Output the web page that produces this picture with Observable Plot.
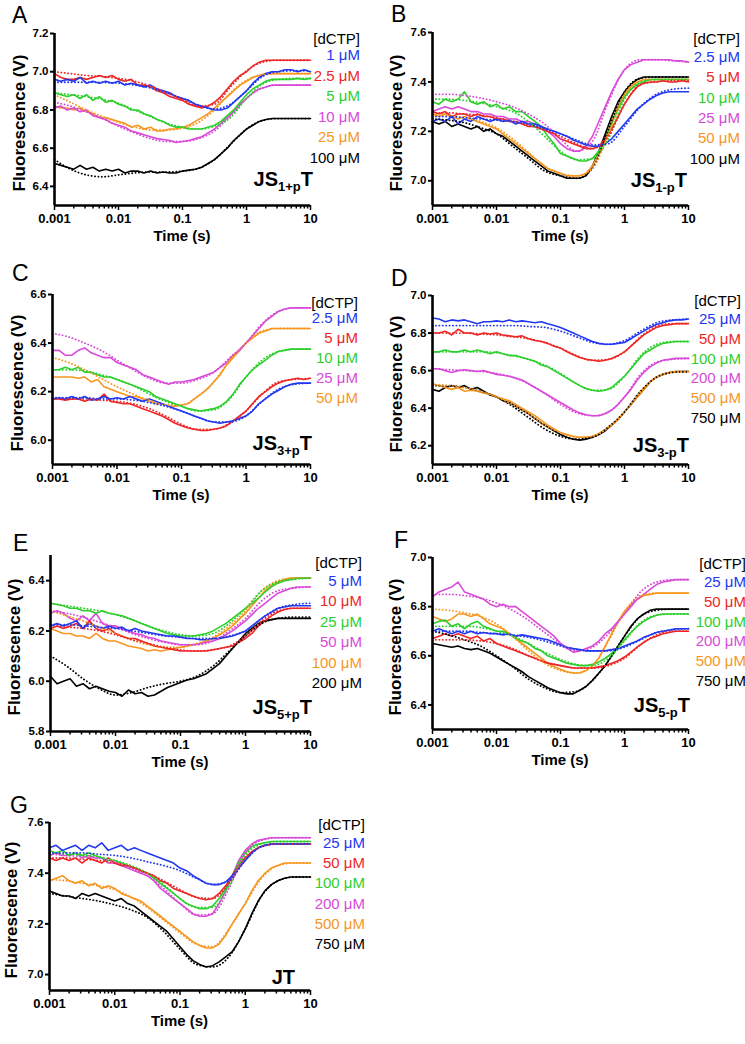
<!DOCTYPE html>
<html><head><meta charset="utf-8">
<script src="https://cdn.jsdelivr.net/npm/d3@7"></script>
<script src="https://cdn.jsdelivr.net/npm/@observablehq/plot@0.6"></script>
<style>
body{margin:0;background:#fff;}
#fig{position:relative;width:745px;height:1044px;overflow:hidden;font-family:"Liberation Sans",Arial,sans-serif;background:#fff;}
.abs{position:absolute;white-space:nowrap;line-height:1;}
.abs sub{font-size:13px;vertical-align:-5px;line-height:0;}
svg{overflow:visible;}
</style></head><body><div id="fig"></div>
<script>
// ---- time grids (s) ----
const tData = [0.001,0.00126,0.00158,0.002,0.00251,0.00316,0.00398,0.00501,0.00631,0.00794,0.01,0.0126,0.0158,0.02,0.0251,0.0316,0.0398,0.0501,0.0631,0.0794,0.1,0.126,0.158,0.2,0.251,0.316,0.398,0.501,0.631,0.794,1,1.26,1.58,2,2.51,3.16,3.98,5.01,6.31,7.94,10];
const tFit = [0.001,0.00178,0.00316,0.00562,0.01,0.0178,0.0316,0.0562,0.1,0.178,0.316,0.562,1,1.78,3.16,5.62,10];
const xTicks = [0.001,0.01,0.1,1,10];
const xMinorTicks = [0.002,0.003,0.004,0.005,0.006,0.007,0.008,0.009,0.02,0.03,0.04,0.05,0.06,0.07,0.08,0.09,0.2,0.3,0.4,0.5,0.6,0.7,0.8,0.9,2,3,4,5,6,7,8,9];
const seriesColors = ["#2238f0","#ee2626","#2ccf2c","#d94ad9","#f7961f","#000000"];

// ---- Panel A: JS1+pT ----
const A_yTicks = [6.4,6.6,6.8,7.0,7.2];
const A_legend = ["1 μM","2.5 μM","5 μM","10 μM","25 μM","100 μM"];
const A_b = [6.96,6.95,6.96,6.95,6.97,6.94,6.95,6.94,6.95,6.94,6.95,6.93,6.94,6.93,6.92,6.93,6.91,6.90,6.89,6.87,6.86,6.85,6.83,6.82,6.81,6.80,6.80,6.81,6.84,6.87,6.90,6.94,6.97,6.99,7.00,7.00,7.01,7.01,7.00,7.01,7.00];
const A_b_fit = [6.945,6.945,6.945,6.944,6.94,6.93,6.915,6.89,6.86,6.825,6.805,6.83,6.90,6.975,7.00,7.005,7.005];
const A_r = [6.99,6.97,6.96,6.96,6.97,6.96,6.97,6.98,6.97,6.98,6.96,6.95,6.96,6.93,6.93,6.92,6.90,6.89,6.87,6.86,6.85,6.83,6.82,6.81,6.82,6.84,6.87,6.91,6.95,6.98,7.00,7.03,7.05,7.06,7.06,7.06,7.06,7.06,7.06,7.06,7.06];
const A_r_fit = [7.00,6.99,6.98,6.975,6.965,6.95,6.925,6.89,6.855,6.82,6.83,6.92,7.005,7.05,7.06,7.06,7.06];
const A_g = [6.89,6.88,6.87,6.88,6.86,6.88,6.85,6.87,6.84,6.85,6.83,6.82,6.80,6.80,6.78,6.77,6.75,6.74,6.72,6.71,6.71,6.70,6.70,6.70,6.71,6.72,6.74,6.77,6.80,6.84,6.88,6.91,6.93,6.95,6.96,6.96,6.96,6.96,6.965,6.96,6.965];
const A_g_fit = [6.89,6.88,6.87,6.855,6.835,6.80,6.765,6.73,6.71,6.70,6.715,6.76,6.86,6.935,6.96,6.965,6.965];
const A_m = [6.81,6.82,6.80,6.81,6.79,6.80,6.77,6.76,6.75,6.73,6.72,6.71,6.69,6.68,6.67,6.66,6.65,6.645,6.64,6.63,6.635,6.64,6.65,6.66,6.68,6.70,6.73,6.76,6.79,6.83,6.86,6.89,6.91,6.92,6.93,6.93,6.93,6.93,6.93,6.93,6.93];
const A_m_fit = [6.84,6.82,6.79,6.755,6.715,6.68,6.65,6.635,6.635,6.65,6.69,6.77,6.86,6.915,6.93,6.93,6.93];
const A_o = [6.82,6.81,6.81,6.80,6.81,6.79,6.78,6.76,6.76,6.75,6.74,6.73,6.71,6.72,6.70,6.71,6.69,6.69,6.70,6.70,6.71,6.72,6.74,6.76,6.78,6.81,6.84,6.87,6.90,6.93,6.95,6.97,6.98,6.99,6.99,6.99,6.99,6.99,6.99,6.99,6.99];
const A_o_fit = [6.88,6.84,6.80,6.765,6.735,6.71,6.695,6.695,6.705,6.735,6.80,6.89,6.955,6.985,6.99,6.99,6.99];
const A_k = [6.52,6.51,6.50,6.49,6.51,6.49,6.50,6.48,6.49,6.48,6.49,6.47,6.48,6.48,6.47,6.48,6.47,6.475,6.47,6.47,6.48,6.485,6.49,6.50,6.52,6.54,6.57,6.60,6.64,6.67,6.70,6.72,6.74,6.75,6.755,6.755,6.755,6.755,6.755,6.755,6.755];
const A_k_fit = [6.54,6.49,6.46,6.45,6.46,6.47,6.475,6.475,6.48,6.495,6.54,6.62,6.70,6.745,6.755,6.755,6.755];

// ---- Panel B: JS1-pT ----
const B_yTicks = [7.0,7.2,7.4,7.6];
const B_legend = ["2.5 μM","5 μM","10 μM","25 μM","50 μM","100 μM"];
const B_b = [7.24,7.25,7.24,7.26,7.23,7.25,7.24,7.26,7.25,7.24,7.25,7.24,7.245,7.23,7.24,7.23,7.23,7.22,7.21,7.20,7.19,7.18,7.165,7.155,7.145,7.14,7.14,7.15,7.17,7.20,7.23,7.26,7.29,7.31,7.33,7.345,7.355,7.36,7.36,7.36,7.36];
const B_b_fit = [7.26,7.26,7.255,7.25,7.245,7.24,7.23,7.21,7.19,7.165,7.145,7.15,7.22,7.30,7.35,7.37,7.375];
const B_r = [7.28,7.27,7.28,7.26,7.27,7.27,7.26,7.27,7.26,7.26,7.25,7.25,7.24,7.24,7.23,7.22,7.22,7.21,7.20,7.19,7.17,7.16,7.15,7.14,7.13,7.13,7.14,7.17,7.21,7.26,7.31,7.35,7.38,7.395,7.40,7.40,7.405,7.40,7.40,7.405,7.40];
const B_r_fit = [7.275,7.275,7.27,7.265,7.255,7.24,7.225,7.205,7.18,7.15,7.13,7.18,7.31,7.39,7.40,7.405,7.405];
const B_g = [7.32,7.31,7.33,7.32,7.33,7.36,7.32,7.31,7.32,7.30,7.31,7.29,7.30,7.28,7.28,7.26,7.24,7.22,7.18,7.15,7.11,7.10,7.09,7.08,7.08,7.09,7.12,7.17,7.23,7.29,7.34,7.37,7.39,7.40,7.41,7.41,7.41,7.41,7.41,7.41,7.41];
const B_g_fit = [7.33,7.33,7.325,7.315,7.30,7.28,7.24,7.18,7.12,7.085,7.09,7.17,7.33,7.40,7.41,7.41,7.41];
const B_m = [7.28,7.29,7.30,7.29,7.30,7.29,7.28,7.28,7.27,7.27,7.26,7.26,7.25,7.25,7.24,7.24,7.23,7.22,7.20,7.18,7.15,7.13,7.12,7.12,7.14,7.18,7.24,7.30,7.36,7.41,7.45,7.47,7.48,7.49,7.49,7.49,7.49,7.49,7.485,7.485,7.48];
const B_m_fit = [7.35,7.35,7.345,7.335,7.32,7.30,7.27,7.23,7.17,7.12,7.16,7.32,7.45,7.49,7.49,7.485,7.48];
const B_o = [7.27,7.26,7.27,7.26,7.25,7.26,7.25,7.24,7.23,7.22,7.21,7.19,7.17,7.15,7.13,7.11,7.09,7.07,7.05,7.04,7.03,7.02,7.02,7.02,7.03,7.06,7.11,7.17,7.24,7.30,7.35,7.38,7.40,7.41,7.41,7.41,7.41,7.41,7.41,7.41,7.41];
const B_o_fit = [7.27,7.265,7.255,7.24,7.215,7.17,7.115,7.06,7.03,7.02,7.05,7.19,7.35,7.405,7.41,7.41,7.41];
const B_k = [7.24,7.23,7.24,7.22,7.23,7.22,7.21,7.22,7.20,7.21,7.19,7.18,7.16,7.14,7.12,7.10,7.08,7.06,7.04,7.03,7.02,7.01,7.01,7.01,7.02,7.06,7.12,7.19,7.26,7.32,7.36,7.39,7.41,7.42,7.42,7.42,7.42,7.42,7.42,7.42,7.42];
const B_k_fit = [7.25,7.245,7.235,7.215,7.19,7.14,7.09,7.04,7.02,7.01,7.05,7.21,7.36,7.415,7.42,7.42,7.42];

// ---- Panel C: JS3+pT ----
const C_yTicks = [6.0,6.2,6.4,6.6];
const C_legend = ["2.5 μM","5 μM","10 μM","25 μM","50 μM"];
const C_b = [6.17,6.175,6.17,6.18,6.17,6.18,6.165,6.17,6.18,6.17,6.175,6.17,6.18,6.17,6.16,6.17,6.16,6.15,6.14,6.13,6.12,6.11,6.10,6.09,6.08,6.075,6.07,6.075,6.08,6.09,6.10,6.12,6.15,6.17,6.19,6.205,6.22,6.23,6.235,6.235,6.235];
const C_b_fit = [6.175,6.175,6.175,6.17,6.17,6.165,6.155,6.14,6.12,6.095,6.075,6.075,6.10,6.16,6.21,6.23,6.235];
const C_r = [6.17,6.17,6.165,6.17,6.17,6.16,6.17,6.165,6.19,6.16,6.155,6.15,6.15,6.14,6.13,6.12,6.11,6.10,6.085,6.07,6.06,6.05,6.045,6.04,6.04,6.045,6.05,6.06,6.08,6.10,6.12,6.15,6.18,6.20,6.22,6.235,6.245,6.25,6.255,6.25,6.255];
const C_r_fit = [6.17,6.17,6.17,6.165,6.16,6.15,6.13,6.10,6.065,6.045,6.045,6.07,6.12,6.19,6.24,6.25,6.255];
const C_g = [6.29,6.29,6.30,6.29,6.30,6.28,6.28,6.27,6.26,6.26,6.25,6.24,6.23,6.22,6.21,6.20,6.18,6.17,6.16,6.15,6.14,6.13,6.125,6.12,6.125,6.13,6.14,6.16,6.19,6.23,6.26,6.29,6.31,6.33,6.35,6.365,6.37,6.375,6.375,6.375,6.375];
const C_g_fit = [6.29,6.29,6.285,6.27,6.25,6.225,6.19,6.16,6.14,6.12,6.125,6.17,6.26,6.33,6.365,6.375,6.375];
const C_m = [6.37,6.37,6.35,6.35,6.37,6.38,6.36,6.35,6.34,6.34,6.32,6.31,6.30,6.29,6.27,6.26,6.25,6.24,6.23,6.24,6.24,6.245,6.25,6.26,6.27,6.28,6.30,6.32,6.35,6.37,6.40,6.43,6.46,6.49,6.51,6.53,6.54,6.545,6.545,6.545,6.545];
const C_m_fit = [6.44,6.425,6.40,6.37,6.33,6.29,6.255,6.235,6.235,6.25,6.28,6.34,6.40,6.48,6.53,6.545,6.545];
const C_o = [6.26,6.26,6.26,6.26,6.255,6.26,6.24,6.25,6.22,6.21,6.20,6.19,6.18,6.18,6.17,6.16,6.15,6.15,6.14,6.14,6.145,6.15,6.17,6.19,6.21,6.24,6.27,6.31,6.34,6.37,6.40,6.42,6.44,6.45,6.46,6.46,6.46,6.46,6.46,6.46,6.46];
const C_o_fit = [6.34,6.32,6.29,6.255,6.22,6.19,6.165,6.145,6.145,6.18,6.24,6.33,6.40,6.45,6.46,6.46,6.46];

// ---- Panel D: JS3-pT ----
const D_yTicks = [6.2,6.4,6.6,6.8,7.0];
const D_legend = ["25 μM","50 μM","100 μM","200 μM","500 μM","750 μM"];
const D_b = [6.88,6.875,6.86,6.87,6.865,6.87,6.86,6.85,6.86,6.86,6.865,6.86,6.87,6.86,6.865,6.86,6.855,6.86,6.85,6.84,6.83,6.815,6.80,6.785,6.77,6.755,6.745,6.74,6.74,6.745,6.75,6.77,6.79,6.81,6.83,6.845,6.855,6.865,6.87,6.87,6.875];
const D_b_fit = [6.84,6.84,6.84,6.84,6.84,6.84,6.835,6.83,6.81,6.78,6.75,6.74,6.76,6.81,6.855,6.87,6.875];
const D_r = [6.80,6.80,6.81,6.79,6.82,6.80,6.80,6.79,6.80,6.795,6.80,6.79,6.785,6.78,6.785,6.77,6.76,6.755,6.745,6.73,6.72,6.70,6.685,6.67,6.66,6.655,6.65,6.655,6.665,6.68,6.70,6.73,6.76,6.79,6.81,6.83,6.84,6.845,6.85,6.85,6.85];
const D_r_fit = [6.80,6.80,6.80,6.795,6.79,6.78,6.77,6.75,6.72,6.68,6.655,6.66,6.70,6.78,6.835,6.85,6.85];
const D_g = [6.70,6.70,6.71,6.70,6.70,6.71,6.70,6.71,6.70,6.69,6.70,6.69,6.68,6.68,6.67,6.66,6.65,6.63,6.62,6.60,6.58,6.56,6.54,6.52,6.505,6.495,6.49,6.495,6.51,6.54,6.57,6.61,6.65,6.69,6.71,6.73,6.745,6.75,6.755,6.755,6.755];
const D_g_fit = [6.70,6.70,6.70,6.70,6.695,6.68,6.66,6.63,6.585,6.53,6.495,6.50,6.57,6.68,6.74,6.755,6.755];
const D_m = [6.61,6.61,6.60,6.59,6.60,6.605,6.60,6.595,6.60,6.59,6.58,6.575,6.57,6.56,6.55,6.53,6.51,6.49,6.47,6.45,6.43,6.41,6.39,6.375,6.365,6.36,6.36,6.37,6.39,6.42,6.46,6.50,6.55,6.59,6.62,6.64,6.655,6.66,6.665,6.665,6.665];
const D_m_fit = [6.61,6.605,6.60,6.595,6.585,6.565,6.53,6.48,6.42,6.375,6.36,6.38,6.46,6.58,6.645,6.66,6.665];
const D_o = [6.53,6.52,6.51,6.50,6.51,6.49,6.495,6.49,6.48,6.475,6.46,6.45,6.44,6.42,6.40,6.38,6.36,6.335,6.31,6.29,6.27,6.26,6.25,6.245,6.245,6.25,6.265,6.285,6.31,6.34,6.38,6.42,6.46,6.50,6.54,6.565,6.58,6.59,6.595,6.595,6.595];
const D_o_fit = [6.525,6.52,6.51,6.49,6.46,6.42,6.37,6.31,6.27,6.245,6.25,6.30,6.38,6.49,6.565,6.59,6.595];
const D_k = [6.50,6.49,6.51,6.52,6.51,6.52,6.50,6.51,6.49,6.47,6.46,6.44,6.43,6.41,6.39,6.37,6.345,6.32,6.30,6.28,6.26,6.245,6.235,6.23,6.235,6.245,6.26,6.28,6.31,6.34,6.38,6.42,6.46,6.50,6.54,6.565,6.58,6.59,6.595,6.595,6.595];
const D_k_fit = [6.52,6.52,6.51,6.49,6.46,6.41,6.35,6.29,6.25,6.235,6.245,6.30,6.38,6.49,6.565,6.59,6.595];

// ---- Panel E: JS5+pT ----
const E_yTicks = [5.8,6.0,6.2,6.4];
const E_legend = ["5 μM","10 μM","25 μM","50 μM","100 μM","200 μM"];
const E_b = [6.22,6.23,6.22,6.23,6.24,6.21,6.23,6.22,6.21,6.22,6.21,6.215,6.20,6.21,6.20,6.195,6.19,6.185,6.18,6.18,6.175,6.17,6.17,6.165,6.165,6.17,6.17,6.175,6.18,6.19,6.20,6.22,6.24,6.26,6.275,6.29,6.295,6.30,6.30,6.30,6.30];
const E_b_fit = [6.225,6.225,6.22,6.215,6.21,6.20,6.19,6.18,6.175,6.17,6.17,6.18,6.20,6.25,6.29,6.305,6.31];
const E_r = [6.21,6.22,6.21,6.22,6.23,6.21,6.24,6.21,6.20,6.21,6.19,6.18,6.17,6.17,6.16,6.15,6.14,6.135,6.13,6.125,6.12,6.12,6.12,6.12,6.12,6.125,6.13,6.135,6.14,6.155,6.17,6.19,6.22,6.24,6.26,6.275,6.285,6.29,6.29,6.29,6.29];
const E_r_fit = [6.22,6.215,6.21,6.20,6.185,6.165,6.15,6.135,6.125,6.12,6.125,6.14,6.18,6.24,6.28,6.29,6.29];
const E_g = [6.31,6.305,6.30,6.29,6.29,6.28,6.28,6.27,6.28,6.27,6.265,6.26,6.25,6.24,6.23,6.22,6.21,6.20,6.19,6.185,6.18,6.18,6.18,6.185,6.19,6.20,6.215,6.23,6.25,6.27,6.29,6.31,6.33,6.355,6.375,6.39,6.40,6.405,6.41,6.41,6.41];
const E_g_fit = [6.31,6.30,6.29,6.28,6.265,6.245,6.22,6.20,6.185,6.18,6.19,6.23,6.29,6.36,6.395,6.405,6.41];
const E_m = [6.27,6.28,6.27,6.25,6.24,6.26,6.24,6.27,6.23,6.22,6.22,6.21,6.20,6.19,6.185,6.175,6.17,6.16,6.155,6.15,6.145,6.145,6.145,6.15,6.155,6.16,6.17,6.185,6.20,6.22,6.24,6.265,6.29,6.31,6.33,6.35,6.36,6.37,6.375,6.375,6.375];
const E_m_fit = [6.28,6.27,6.255,6.235,6.215,6.19,6.17,6.155,6.145,6.145,6.16,6.20,6.25,6.32,6.36,6.37,6.375];
const E_o = [6.21,6.20,6.19,6.19,6.18,6.18,6.17,6.19,6.17,6.16,6.16,6.15,6.14,6.135,6.13,6.12,6.125,6.12,6.125,6.13,6.135,6.14,6.145,6.15,6.16,6.17,6.185,6.20,6.22,6.245,6.27,6.30,6.33,6.36,6.38,6.395,6.405,6.41,6.41,6.41,6.41];
const E_o_fit = [6.28,6.26,6.24,6.215,6.19,6.165,6.145,6.135,6.135,6.15,6.175,6.22,6.28,6.36,6.40,6.41,6.41];
const E_k = [6.02,5.99,6.00,6.01,5.98,5.99,5.97,5.98,5.97,5.96,5.955,5.94,5.965,5.95,5.955,5.94,5.945,5.96,5.975,5.985,5.995,6.005,6.01,6.02,6.03,6.05,6.07,6.10,6.13,6.16,6.19,6.21,6.23,6.24,6.245,6.25,6.25,6.25,6.25,6.25,6.25];
const E_k_fit = [6.10,6.06,6.01,5.97,5.945,5.955,5.975,5.99,6.00,6.02,6.06,6.12,6.18,6.23,6.25,6.255,6.255];

// ---- Panel F: JS5-pT ----
const F_yTicks = [6.4,6.6,6.8,7.0];
const F_legend = ["25 μM","50 μM","100 μM","200 μM","500 μM","750 μM"];
const F_b = [6.70,6.71,6.70,6.69,6.70,6.69,6.70,6.69,6.695,6.69,6.69,6.685,6.69,6.68,6.685,6.68,6.675,6.67,6.665,6.655,6.645,6.635,6.63,6.625,6.62,6.62,6.62,6.62,6.625,6.63,6.64,6.65,6.66,6.675,6.685,6.695,6.70,6.705,6.71,6.71,6.71];
const F_b_fit = [6.70,6.70,6.70,6.695,6.69,6.685,6.675,6.66,6.64,6.625,6.62,6.62,6.635,6.665,6.695,6.705,6.71];
const F_r = [6.67,6.68,6.69,6.68,6.69,6.68,6.67,6.68,6.66,6.67,6.65,6.64,6.63,6.62,6.61,6.60,6.59,6.58,6.57,6.565,6.56,6.555,6.55,6.55,6.55,6.55,6.555,6.56,6.57,6.58,6.595,6.615,6.635,6.655,6.67,6.68,6.69,6.695,6.70,6.70,6.70];
const F_r_fit = [6.665,6.665,6.665,6.66,6.65,6.63,6.60,6.575,6.56,6.55,6.55,6.56,6.59,6.645,6.685,6.70,6.70];
const F_g = [6.73,6.74,6.745,6.72,6.73,6.71,6.73,6.74,6.72,6.71,6.70,6.70,6.69,6.67,6.66,6.65,6.63,6.62,6.60,6.59,6.58,6.57,6.565,6.56,6.56,6.565,6.575,6.59,6.61,6.635,6.665,6.695,6.72,6.74,6.755,6.765,6.77,6.77,6.77,6.77,6.77];
const F_g_fit = [6.72,6.72,6.72,6.715,6.70,6.68,6.65,6.615,6.585,6.565,6.56,6.59,6.66,6.735,6.765,6.77,6.77];
const F_m = [6.84,6.86,6.87,6.88,6.90,6.86,6.85,6.84,6.83,6.81,6.80,6.81,6.80,6.80,6.78,6.76,6.74,6.72,6.70,6.68,6.65,6.63,6.615,6.62,6.63,6.64,6.66,6.69,6.71,6.74,6.77,6.80,6.83,6.85,6.87,6.89,6.90,6.905,6.91,6.91,6.91];
const F_m_fit = [6.85,6.85,6.845,6.835,6.815,6.785,6.745,6.695,6.65,6.62,6.635,6.69,6.77,6.86,6.90,6.91,6.91];
const F_o = [6.76,6.75,6.74,6.75,6.77,6.77,6.76,6.77,6.75,6.73,6.72,6.71,6.69,6.67,6.65,6.63,6.61,6.59,6.57,6.555,6.545,6.535,6.53,6.53,6.54,6.56,6.59,6.64,6.69,6.74,6.78,6.81,6.83,6.845,6.85,6.855,6.855,6.855,6.855,6.855,6.855];
const F_o_fit = [6.79,6.785,6.775,6.76,6.73,6.68,6.62,6.57,6.54,6.53,6.56,6.66,6.78,6.845,6.855,6.855,6.855];
const F_k = [6.65,6.645,6.64,6.635,6.64,6.63,6.625,6.63,6.62,6.61,6.595,6.58,6.565,6.55,6.535,6.515,6.50,6.485,6.47,6.46,6.45,6.445,6.445,6.46,6.475,6.50,6.53,6.56,6.60,6.64,6.68,6.72,6.75,6.77,6.785,6.79,6.79,6.79,6.79,6.79,6.79];
const F_k_fit = [6.70,6.685,6.665,6.64,6.60,6.555,6.505,6.47,6.45,6.455,6.50,6.58,6.68,6.76,6.785,6.79,6.79];

// ---- Panel G: JT ----
const G_yTicks = [7.0,7.2,7.4,7.6];
const G_legend = ["25 μM","50 μM","100 μM","200 μM","500 μM","750 μM"];
const G_b = [7.50,7.51,7.49,7.50,7.51,7.49,7.51,7.50,7.52,7.49,7.50,7.51,7.49,7.50,7.49,7.48,7.47,7.46,7.45,7.44,7.42,7.41,7.39,7.375,7.36,7.355,7.355,7.365,7.39,7.42,7.45,7.48,7.50,7.51,7.515,7.515,7.515,7.515,7.515,7.515,7.515];
const G_b_fit = [7.48,7.48,7.48,7.475,7.47,7.46,7.445,7.43,7.41,7.38,7.355,7.37,7.45,7.505,7.515,7.515,7.515];
const G_r = [7.46,7.45,7.46,7.45,7.46,7.44,7.46,7.45,7.44,7.46,7.44,7.43,7.43,7.42,7.41,7.40,7.39,7.37,7.36,7.34,7.33,7.32,7.31,7.30,7.295,7.30,7.32,7.35,7.39,7.43,7.46,7.485,7.50,7.51,7.515,7.515,7.515,7.515,7.515,7.515,7.515];
const G_r_fit = [7.46,7.46,7.455,7.45,7.44,7.425,7.40,7.37,7.335,7.305,7.30,7.36,7.46,7.505,7.515,7.515,7.515];
const G_g = [7.49,7.48,7.49,7.47,7.48,7.47,7.48,7.47,7.46,7.45,7.45,7.44,7.43,7.42,7.41,7.40,7.38,7.36,7.34,7.32,7.30,7.28,7.27,7.26,7.26,7.27,7.30,7.34,7.39,7.44,7.48,7.505,7.515,7.52,7.525,7.525,7.525,7.525,7.525,7.525,7.525];
const G_g_fit = [7.48,7.475,7.47,7.465,7.45,7.43,7.40,7.355,7.30,7.265,7.265,7.35,7.47,7.515,7.525,7.525,7.525];
const G_m = [7.47,7.48,7.47,7.47,7.48,7.46,7.47,7.46,7.46,7.44,7.44,7.43,7.42,7.41,7.40,7.39,7.37,7.34,7.32,7.30,7.28,7.26,7.24,7.23,7.23,7.24,7.28,7.33,7.39,7.45,7.49,7.515,7.53,7.535,7.54,7.54,7.54,7.54,7.54,7.54,7.54];
const G_m_fit = [7.475,7.47,7.465,7.46,7.445,7.42,7.39,7.34,7.28,7.235,7.24,7.34,7.48,7.53,7.54,7.54,7.54];
const G_o = [7.37,7.38,7.39,7.37,7.36,7.37,7.35,7.36,7.34,7.35,7.34,7.32,7.31,7.30,7.29,7.27,7.25,7.23,7.21,7.19,7.17,7.15,7.13,7.115,7.105,7.105,7.12,7.155,7.20,7.24,7.28,7.33,7.37,7.40,7.42,7.43,7.44,7.44,7.44,7.44,7.44];
const G_o_fit = [7.375,7.37,7.36,7.35,7.335,7.305,7.265,7.215,7.165,7.12,7.11,7.18,7.28,7.38,7.43,7.44,7.44];
const G_k = [7.33,7.32,7.31,7.31,7.30,7.32,7.31,7.32,7.31,7.30,7.29,7.30,7.28,7.27,7.25,7.23,7.21,7.19,7.17,7.14,7.11,7.08,7.055,7.04,7.03,7.035,7.05,7.07,7.09,7.13,7.18,7.24,7.29,7.33,7.355,7.37,7.38,7.385,7.385,7.385,7.385];
const G_k_fit = [7.32,7.31,7.30,7.29,7.275,7.255,7.225,7.17,7.10,7.04,7.03,7.07,7.18,7.31,7.37,7.385,7.385];

// ---- layout ----
const panels = [
  {letter:"A", name:"JS<sub>1+p</sub>T", col:0, left:54, right:310, top:33, bottom:205, yDomain:[6.3,7.2], yTicks:A_yTicks,
   data:[A_b,A_r,A_g,A_m,A_o,A_k], fits:[A_b_fit,A_r_fit,A_g_fit,A_m_fit,A_o_fit,A_k_fit], legend:A_legend,
   letterPos:[12,15], namePos:[313,179], legRight:360, legHead:38, legFirst:54, legStep:20.6, ylabX:19},
  {letter:"B", name:"JS<sub>1-p</sub>T", col:372, left:432, right:688, top:32, bottom:205, yDomain:[6.9,7.6], yTicks:B_yTicks,
   data:[B_b,B_r,B_g,B_m,B_o,B_k], fits:[B_b_fit,B_r_fit,B_g_fit,B_m_fit,B_o_fit,B_k_fit], legend:B_legend,
   letterPos:[391,14], namePos:[687,180], legRight:740, legHead:38, legFirst:56, legStep:20.3, ylabX:396},
  {letter:"C", name:"JS<sub>3+p</sub>T", col:0, left:52, right:310, top:294, bottom:464, yDomain:[5.9,6.6], yTicks:C_yTicks,
   data:[C_b,C_r,C_g,C_m,C_o], fits:[C_b_fit,C_r_fit,C_g_fit,C_m_fit,C_o_fit], legend:C_legend,
   letterPos:[12,273], namePos:[312,443], legRight:358, legHead:302, legFirst:317, legStep:20, ylabX:17},
  {letter:"D", name:"JS<sub>3-p</sub>T", col:372, left:432, right:688, top:295, bottom:464, yDomain:[6.1,7.0], yTicks:D_yTicks,
   data:[D_b,D_r,D_g,D_m,D_o,D_k], fits:[D_b_fit,D_r_fit,D_g_fit,D_m_fit,D_o_fit,D_k_fit], legend:D_legend,
   letterPos:[391,278], namePos:[689,445], legRight:741, legHead:300, legFirst:318, legStep:19.8, ylabX:396},
  {letter:"E", name:"JS<sub>5+p</sub>T", col:0, left:50, right:310, top:555, bottom:731, yDomain:[5.8,6.5], yTicks:E_yTicks,
   data:[E_b,E_r,E_g,E_m,E_o,E_k], fits:[E_b_fit,E_r_fit,E_g_fit,E_m_fit,E_o_fit,E_k_fit], legend:E_legend,
   letterPos:[13,543], namePos:[312,707], legRight:362, legHead:562, legFirst:580, legStep:20.4, ylabX:14},
  {letter:"F", name:"JS<sub>5-p</sub>T", col:372, left:432, right:688, top:557, bottom:729, yDomain:[6.3,7.0], yTicks:F_yTicks,
   data:[F_b,F_r,F_g,F_m,F_o,F_k], fits:[F_b_fit,F_r_fit,F_g_fit,F_m_fit,F_o_fit,F_k_fit], legend:F_legend,
   letterPos:[394,540], namePos:[690,705], legRight:746, legHead:563, legFirst:581, legStep:19.8, ylabX:395},
  {letter:"G", name:"JT", col:0, left:49, right:310, top:822, bottom:990, yDomain:[6.937,7.6], yTicks:G_yTicks,
   data:[G_b,G_r,G_g,G_m,G_o,G_k], fits:[G_b_fit,G_r_fit,G_g_fit,G_m_fit,G_o_fit,G_k_fit], legend:G_legend,
   letterPos:[10,805], namePos:[295,977], legRight:365, legHead:824, legFirst:842, legStep:20.2, ylabX:11}
];

const fig = document.getElementById("fig");
const rows = (ts, vs) => ts.map((t, i) => ({t, v: vs[i]}));

function addText(html, x, y, o = {}) {
  const d = document.createElement("div");
  d.className = "abs";
  d.innerHTML = html;
  d.style.left = x + "px";
  d.style.top = y + "px";
  d.style.fontSize = (o.size || 15) + "px";
  d.style.fontWeight = o.weight || "normal";
  d.style.color = o.color || "#000";
  const tx = o.anchor === "end" ? "-100%" : o.anchor === "middle" ? "-50%" : "0";
  d.style.transform = `translate(${tx},-50%)` + (o.rotate ? ` rotate(${o.rotate}deg)` : "");
  fig.appendChild(d);
}

for (const p of panels) {
  const W = 373, padT = 12, padB = 24;
  const H = (p.bottom - p.top) + padT + padB;
  const n = p.data.length;
  const order = d3.range(n).reverse();
  const colorOf = i => i === n - 1 && n === 6 ? seriesColors[5] : seriesColors[i];
  const marks = [];
  for (const i of order) {
    marks.push(Plot.line(rows(tData, p.data[i]), {x: "t", y: "v", stroke: colorOf(i), strokeWidth: 1.6}));
  }
  for (const i of order) {
    marks.push(Plot.line(rows(tFit, p.fits[i]), {x: "t", y: "v", stroke: colorOf(i), strokeWidth: 1.8, strokeDasharray: "0.2,3.2", strokeLinecap: "round", curve: "monotone-x"}));
  }
  marks.push(
    Plot.axisY(p.yTicks, {tickSize: 4, tickPadding: 2, fontSize: 11.5, fontWeight: "bold", tickFormat: d => d.toFixed(1), label: null, strokeWidth: 2}),
    Plot.axisX(xMinorTicks, {tickSize: 3.5, tickFormat: () => "", label: null, strokeWidth: 1.5}),
    Plot.axisX(xTicks, {tickSize: 5, tickPadding: 3, fontSize: 13, fontWeight: "bold", tickFormat: d => String(d), label: null, strokeWidth: 1.5}),
    Plot.ruleX([0.001], {stroke: "#000", strokeWidth: 2.6}),
    Plot.ruleY([p.yDomain[0]], {stroke: "#000", strokeWidth: 2.6})
  );
  const chart = Plot.plot({
    width: W, height: H,
    marginLeft: p.left - p.col, marginRight: p.col + W - p.right,
    marginTop: padT, marginBottom: padB,
    x: {type: "log", domain: [0.001, 10]},
    y: {domain: p.yDomain},
    style: {fontFamily: "'Liberation Sans', Arial, sans-serif", background: "transparent", color: "#000"},
    marks
  });
  chart.style.position = "absolute";
  chart.style.left = p.col + "px";
  chart.style.top = (p.top - padT) + "px";
  chart.style.overflow = "visible";
  fig.appendChild(chart);

  addText(p.letter, p.letterPos[0], p.letterPos[1], {size: 23});
  addText(p.name, p.namePos[0], p.namePos[1], {size: 20, weight: "bold", anchor: "end"});
  addText("[dCTP]", p.legRight, p.legHead, {size: 15, anchor: "end"});
  p.legend.forEach((lab, i) => addText(lab, p.legRight, p.legFirst + i * p.legStep, {size: 15, anchor: "end", color: colorOf(i)}));
  addText("Time (s)", (p.left + p.right) / 2, p.bottom + 30, {size: 15, weight: "bold", anchor: "middle"});
  addText("Fluorescence (V)", p.ylabX, (p.top + p.bottom) / 2 + 4, {size: 17, weight: "bold", anchor: "middle", rotate: -90});
}
</script>
</body></html>
